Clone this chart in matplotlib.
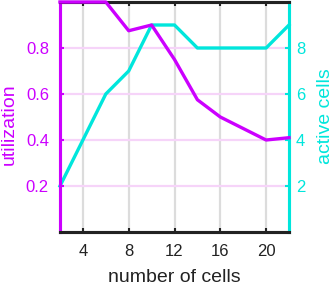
import matplotlib
matplotlib.use("Agg")
import matplotlib.pyplot as plt

plt.rcParams['font.family'] = ['Liberation Sans', 'DejaVu Sans']

cells = [2, 4, 6, 8, 10, 12, 14, 16, 18, 20, 22]
utilization = [1.0, 1.0, 1.0, 0.875, 0.9, 0.75, 0.575, 0.5, 0.45, 0.4, 0.41]
active_cells = [2, 4, 6, 7, 9, 9, 8, 8, 8, 8, 9]
xticks = [4, 8, 12, 16, 20]
yticks_left = [0.2, 0.4, 0.6, 0.8]
yticks_right = [2, 4, 6, 8]

MAG = '#cc00ff'
CYA = '#00e6dc'
DARK = '#222222'

fig = plt.figure(figsize=(3.32, 2.87), dpi=100)
ax = fig.add_axes([60/332, 1-232/287, 229/332, 230/287])
ax2 = ax.twinx()
# utilization axis on top so its line overlays the frame
ax.set_zorder(ax2.get_zorder() + 1)
ax.patch.set_visible(False)

ax.set_xlim(2, 22)
ax.set_ylim(0, 1)
ax2.set_ylim(0, 10)

# grid drawn in lower axes (in data coords of ax2: y scaled x10)
for x in xticks:
    ax2.axvline(x, color='#dcdcdc', lw=1.6, zorder=0)
for y in yticks_left:
    ax2.axhline(y * 10, color='#f6d4f9', lw=1.6, zorder=0)

ax2.plot(cells, active_cells, color=CYA, lw=2.4, zorder=3, clip_on=False)
ax.plot(cells, utilization, color=MAG, lw=2.4, zorder=3, clip_on=False)

ax.set_xticks(xticks)
ax.set_yticks(yticks_left)
ax.set_yticklabels([f'{v:.1f}' for v in yticks_left])
ax2.set_yticks(yticks_right)

ax.tick_params(axis='x', direction='in', length=3, width=1.5, colors=DARK, labelsize=12, top=True, pad=9)
ax.tick_params(axis='y', direction='in', length=3, width=1.5, colors=MAG, labelcolor=MAG, labelsize=12, pad=8)
ax2.tick_params(axis='y', direction='in', length=3, width=1.5, colors=CYA, labelcolor=CYA, labelsize=12, pad=5)

for a in (ax, ax2):
    a.spines['top'].set_color(DARK)
    a.spines['bottom'].set_color(DARK)
    a.spines['left'].set_color(MAG)
    a.spines['right'].set_color(CYA)
    for s in a.spines.values():
        s.set_linewidth(2.2)

ax.set_xlabel('number of cells', fontsize=14, color=DARK)
ax.set_ylabel('utilization', fontsize=14, color=MAG)
ax2.set_ylabel('active cells', fontsize=14, color=CYA)
ax.xaxis.set_label_coords(0.5, -(277 - 232) / 230, transform=ax.transAxes)
ax.xaxis.label.set_va('center')
ax.yaxis.set_label_coords((9 - 60) / 229, 0.47)
ax.yaxis.label.set_va('center')
ax2.yaxis.set_label_coords((325 - 60) / 229, 0.505)
ax2.yaxis.label.set_va('center')

fig.savefig('out.png', dpi=100)
